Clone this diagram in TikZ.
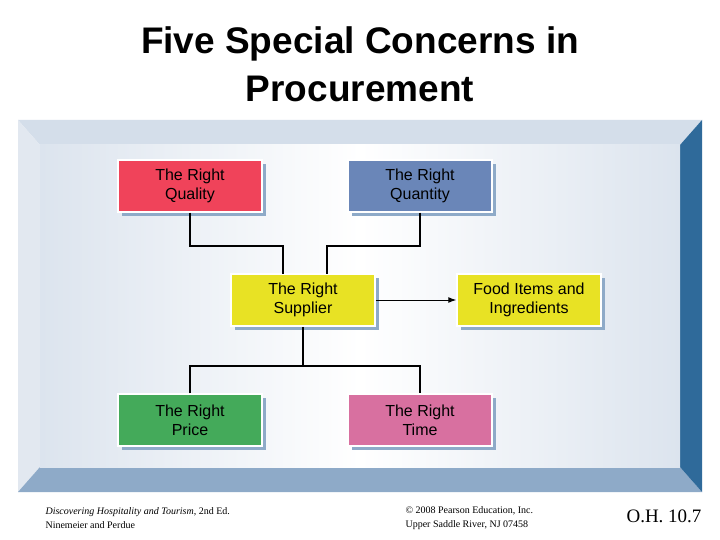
\documentclass[tikz,border=0pt]{standalone}
\usepackage{fontspec}
\setmainfont{Liberation Serif}
\newfontfamily\arial{Liberation Sans}
\usetikzlibrary{arrows.meta}
\definecolor{cred}{HTML}{F0435A}
\definecolor{cblue}{HTML}{6A86B8}
\definecolor{cyel}{HTML}{E8E224}
\definecolor{cgreen}{HTML}{44AA5A}
\definecolor{cpink}{HTML}{D870A0}
\definecolor{bevtop}{HTML}{D4DEEA}
\definecolor{bevleft}{HTML}{E2E8F0}
\definecolor{bevbot}{HTML}{8EAAC8}
\definecolor{bevright}{HTML}{2F6A9A}
\definecolor{inner}{HTML}{DCE4EE}
\tikzset{
 cbox/.style={draw=white,line width=1.5pt,minimum width=144pt,minimum height=52pt,align=center,
   font=\arial\fontsize{16}{19}\selectfont,inner sep=0pt},
 conn/.style={line width=1.8pt,black}
}
\begin{document}
\begin{tikzpicture}[x=1pt,y=-1pt]
\useasboundingbox (0,0) rectangle (720,540);
\fill[white] (0,0) rectangle (720,540);
% frame
\fill[bevtop] (18,120) -- (702,120) -- (680,145) -- (40,145) -- cycle;
\fill[bevleft] (18,120) -- (40,145) -- (40,467) -- (18,492) -- cycle;
\fill[bevbot] (18,492) -- (40,467) -- (680,467) -- (702,492) -- cycle;
\fill[bevright] (702,120) -- (680,145) -- (680,467) -- (702,492) -- cycle;
\shade[left color=inner,right color=inner,middle color=white] (40,145) rectangle (680,467);
\node[font=\arial\bfseries\fontsize{37}{48}\selectfont,align=center] (title) at (360,64)
  {Five Special Concerns in\\Procurement};
% shadows
\foreach \x/\y in {118/160,348/160,231/274,457/274,118/394,348/394}
  \fill[bevbot] (\x+4,\y+4) rectangle (\x+148,\y+56);
\node[cbox,fill=cred] (q) at (190,186) {The Right\\Quality};
\node[cbox,fill=cblue] (n) at (420,186) {The Right\\Quantity};
\node[cbox,fill=cyel] (s) at (303,300) {The Right\\Supplier};
\node[cbox,fill=cyel] (f) at (529,300) {Food Items and\\Ingredients};
\node[cbox,fill=cgreen] (p) at (190,420) {The Right\\Price};
\node[cbox,fill=cpink] (t) at (420,420) {The Right\\Time};
\coordinate (sl) at (283,274);
\coordinate (sr) at (327,274);
\draw[conn] (q.south) |- (283,246) -- (sl);
\draw[conn] (n.south) |- (327,246) -- (sr);
\draw[conn] (s.south) -- (303,366);
\draw[conn] (p.north) |- (303,366) -| (t.north);
\draw[conn,line width=1pt,-{Latex[length=8pt]}] (s.east) -- (f.west);
% footer
\node[anchor=west,font=\fontsize{10}{14}\selectfont,align=left] (ft1) at (42,518)
 {\textit{Discovering Hospitality and Tourism}, 2nd Ed.\\Ninemeier and Perdue};
\node[anchor=west,font=\fontsize{10}{14}\selectfont,align=left] (ft2) at (402,518)
 {© 2008 Pearson Education, Inc.\\Upper Saddle River, NJ 07458};
\node[anchor=east,font=\fontsize{19}{19}\selectfont] (ft3) at (705,516) {O.H. 10.7};
\end{tikzpicture}
\end{document}
